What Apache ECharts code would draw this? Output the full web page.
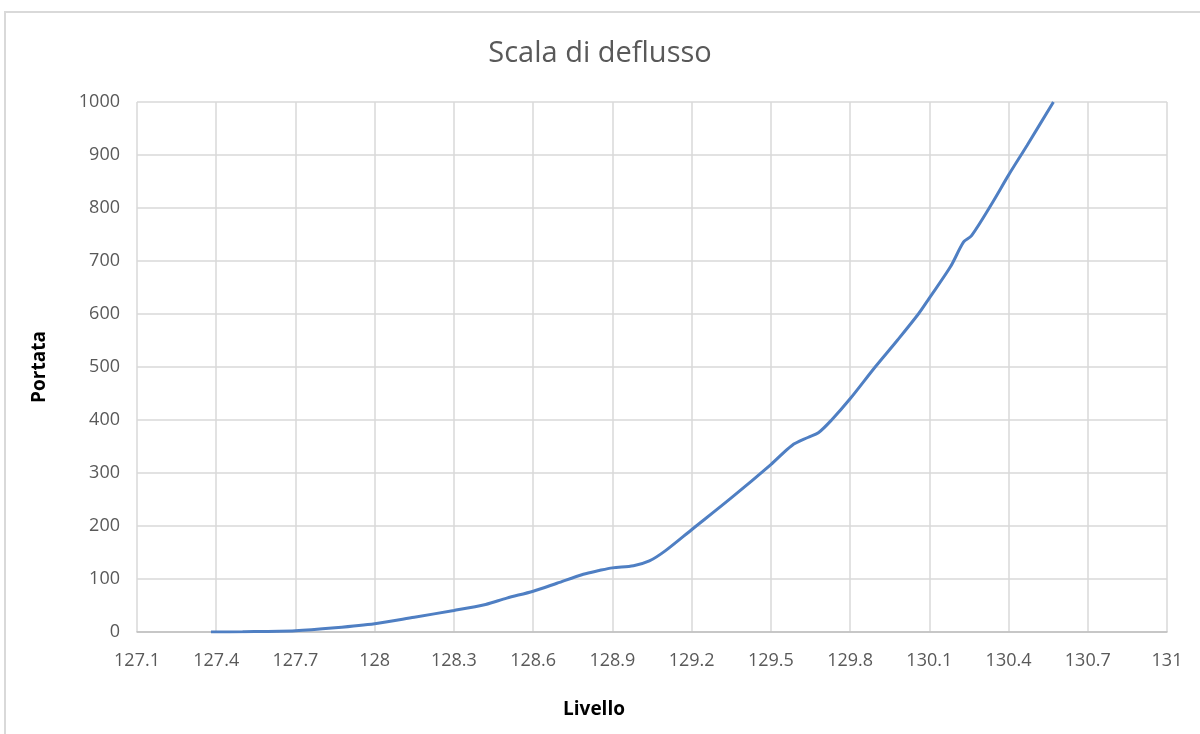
<!DOCTYPE html>
<html>
<head>
<meta charset="utf-8">
<script src="https://cdn.jsdelivr.net/npm/echarts@6/dist/echarts.min.js"></script>
<style>
  body { margin: 0; background: #fff; overflow: hidden; }
  #chart { position: absolute; left: 0; top: 0; width: 1200px; height: 734px; }
  #frame { position: absolute; left: 4px; top: 11px; width: 1220px; height: 760px; border: 2px solid #d9d9d9; box-sizing: border-box; }
</style>
</head>
<body>
<div id="frame"></div>
<div id="chart"></div>
<script>
  // livello (m) e portata
  const livello = [127.38, 127.5, 127.7, 127.85, 128.0, 128.15, 128.3, 128.42, 128.5, 128.6, 128.69, 128.79, 128.85, 128.9, 128.98, 129.04, 129.1, 129.2, 129.35, 129.5, 129.58, 129.64, 129.68, 129.73, 129.8, 129.895, 129.98, 130.06, 130.1, 130.18, 130.23, 130.26, 130.34, 130.4, 130.47, 130.57];
  const portata = [0, 0.5, 2.5, 8, 15.6, 28, 40.6, 52, 64, 77, 92, 109, 116, 121, 125, 134, 153, 193, 253, 316, 352, 367, 376, 400, 440, 500, 551, 601, 630, 689, 736, 748, 811, 862, 918, 1000];

  const xMin = 127.1, xMax = 131, xStep = 0.3;
  const yMin = 0, yMax = 1000, yStep = 100;

  const data = livello.map((v, i) => [v, portata[i]]);

  const chart = echarts.init(document.getElementById('chart'));
  const txt = '#595959';
  const font = 'Open Sans';
  chart.setOption({
    animation: false,
    title: {
      text: 'Scala di deflusso',
      left: 'center',
      top: 34,
      textStyle: { fontFamily: font, fontSize: 29, fontWeight: 'normal', color: txt }
    },
    grid: { left: 137, right: 33, top: 102, bottom: 102 },
    xAxis: {
      type: 'value',
      min: xMin,
      max: xMax,
      interval: xStep,
      name: 'Livello',
      nameLocation: 'middle',
      nameGap: 68,
      nameTextStyle: { fontFamily: font, fontSize: 19, fontWeight: 'bold', color: '#000', padding: [0, 116, 0, 0] },
      axisLine: { lineStyle: { color: '#bfbfbf', width: 1.5 } },
      axisTick: { show: false },
      axisLabel: {
        margin: 20, fontFamily: font, fontSize: 18, color: txt,
        formatter: v => String(Number(v.toFixed(1)))
      },
      splitLine: { show: true, lineStyle: { color: '#d9d9d9', width: 1.5 } }
    },
    yAxis: {
      type: 'value',
      min: yMin,
      max: yMax,
      interval: yStep,
      name: 'Portata',
      nameLocation: 'middle',
      nameGap: 88,
      nameTextStyle: { fontFamily: font, fontSize: 19, fontWeight: 'bold', color: '#000' },
      axisLine: { show: false },
      axisTick: { show: false },
      axisLabel: {
        margin: 17, fontFamily: font, fontSize: 18, color: txt,
        formatter: v => String(v)
      },
      splitLine: { lineStyle: { color: '#d9d9d9', width: 1.5 } }
    },
    series: [{
      type: 'line',
      data: data,
      smooth: 0.3,
      showSymbol: false,
      lineStyle: { color: '#4f7fc3', width: 3 }
    }]
  });
</script>
</body>
</html>
